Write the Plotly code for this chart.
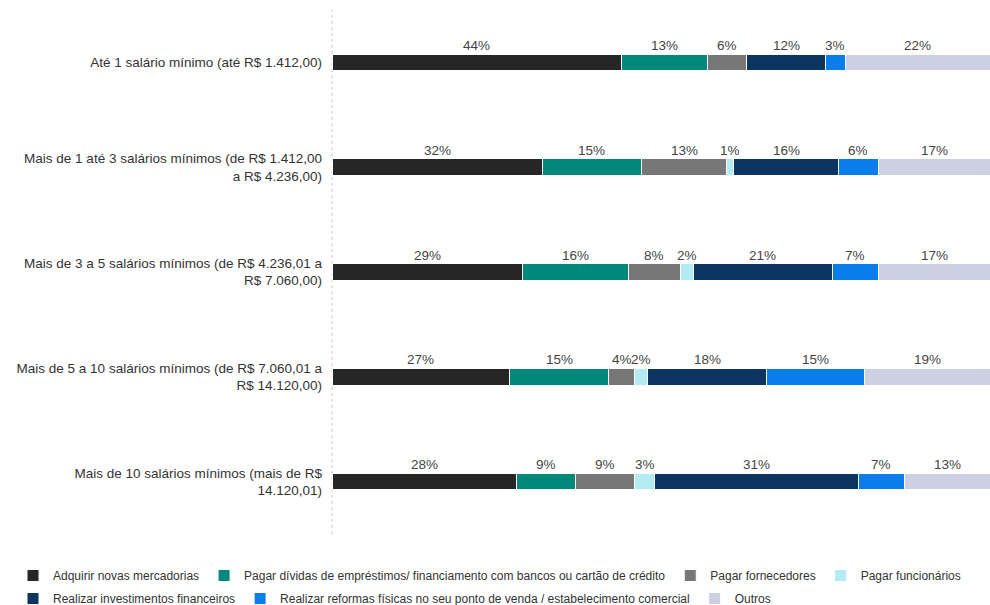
import plotly.graph_objects as go

categories = [
    "Até 1 salário mínimo (até R$ 1.412,00)",
    "Mais de 1 até 3 salários mínimos (de R$ 1.412,00<br>a R$ 4.236,00)",
    "Mais de 3 a 5 salários mínimos (de R$ 4.236,01 a<br>R$ 7.060,00)",
    "Mais de 5 a 10 salários mínimos (de R$ 7.060,01 a<br>R$ 14.120,00)",
    "Mais de 10 salários mínimos (mais de R$<br>14.120,01)",
]

series_names = [
    "Adquirir novas mercadorias",
    "Pagar dívidas de empréstimos/ financiamento com bancos ou cartão de crédito",
    "Pagar fornecedores",
    "Pagar funcionários",
    "Realizar investimentos financeiros",
    "Realizar reformas físicas no seu ponto de venda / estabelecimento comercial",
    "Outros",
]

adquirir = [44, 32, 29, 27, 28]
dividas = [13, 15, 16, 15, 9]
fornecedores = [6, 13, 8, 4, 9]
funcionarios = [0, 1, 2, 2, 3]
investimentos = [12, 16, 21, 18, 31]
reformas = [3, 6, 7, 15, 7]
outros = [22, 17, 17, 19, 13]

series_values = [adquirir, dividas, fornecedores, funcionarios, investimentos, reformas, outros]
colors = ["#262626", "#00897B", "#777777", "#B2EBF2", "#0B3560", "#0B7DEA", "#CDCFE3"]
legend_rows = ["legend", "legend", "legend", "legend", "legend2", "legend2", "legend2"]

FONT = "Liberation Sans, Arial, sans-serif"

fig = go.Figure()
for name, vals, col, lg in zip(series_names, series_values, colors, legend_rows):
    fig.add_trace(go.Bar(
        y=categories, x=vals, name=name, orientation="h",
        marker=dict(color=col, line=dict(color="white", width=1)),
        width=0.16, hoverinfo="x+name", legend=lg,
    ))

annotations = []
for ci, cat in enumerate(categories):
    cum = 0
    for vals in series_values:
        v = vals[ci]
        if v > 0:
            annotations.append(dict(
                x=cum + v / 2, y=cat, xref="x", yref="y", text=f"{v}%",
                showarrow=False, yshift=17,
                font=dict(family=FONT, size=13.5, color="#444"),
            ))
        cum += v

legend_style = dict(orientation="h", xanchor="left", yanchor="top",
                    font=dict(size=12, color="#333"), traceorder="normal",
                    itemwidth=30, bgcolor="rgba(0,0,0,0)")

fig.update_layout(
    barmode="stack",
    width=990, height=605,
    margin=dict(l=332, r=0, t=10, b=71, autoexpand=False),
    plot_bgcolor="white", paper_bgcolor="white",
    font=dict(family=FONT, size=13.5, color="#333"),
    xaxis=dict(range=[0, 100], visible=False, fixedrange=True),
    yaxis=dict(autorange="reversed", showgrid=False, zeroline=False, showline=False,
               ticks="", ticklabelstandoff=9, tickfont=dict(size=13.5, color="#333")),
    legend=dict(x=-0.4848, y=-0.0515, **legend_style),
    legend2=dict(x=-0.4848, y=-0.0954, **legend_style),
    annotations=annotations,
    shapes=[dict(type="line", xref="paper", yref="paper", x0=0, x1=0, y0=0, y1=1,
                 line=dict(color="#ccc", width=1, dash="dot"), layer="below")],
)

fig.write_html(
    "out.html",
    config={"displayModeBar": False},
    post_script="document.body.style.margin='0';document.body.style.overflow='hidden';",
)
